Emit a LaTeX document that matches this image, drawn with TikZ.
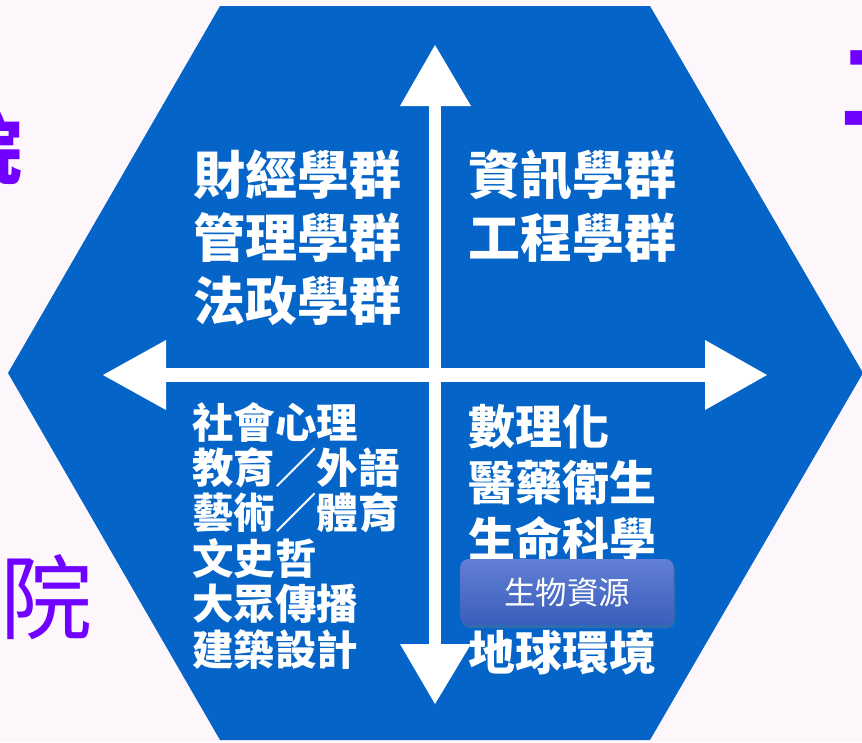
\documentclass[tikz,border=0pt]{standalone}
\usepackage{fontspec}
\newfontfamily\cjk{Noto Sans CJK TC}
\usetikzlibrary{shadows}
\definecolor{bgc}{RGB}{253,247,252}
\definecolor{hexblue}{RGB}{5,100,200}
\definecolor{purp}{RGB}{112,0,255}
\definecolor{boxtop}{RGB}{98,128,212}
\definecolor{boxbot}{RGB}{58,94,188}
\begin{document}
\begin{tikzpicture}[x=1pt,y=-1pt,
  line/.style={anchor=base west,inner sep=0pt,text=white},
  bigline/.style={line,font=\cjk\bfseries\fontsize{52}{63}\selectfont},
  midline/.style={line,font=\cjk\bfseries\fontsize{47}{56}\selectfont},
  smallline/.style={line,font=\cjk\bfseries\fontsize{41.5}{45}\selectfont},
  purpchar/.style={anchor=base west,inner sep=0pt,text=purp},
  arrowpart/.style={fill=white},
  biobox/.style={rounded corners=8pt,minimum width=213pt,minimum height=66pt,
    top color=boxtop,bottom color=boxbot,
    drop shadow={shadow xshift=1.5pt,shadow yshift=-3pt,opacity=0.35},
    text=white,font=\cjk\fontsize{31.5}{36}\selectfont,inner sep=0pt}]
\useasboundingbox (0,0) rectangle (862,742);
\fill[bgc] (0,0) rectangle (862,742);
\begin{scope}
\clip (0,0) rectangle (862,742);
\fill[hexblue] (220,6) -- (650,6) -- (863,373) -- (650,740) -- (220,740) -- (8,373) -- cycle;
\node[purpchar,font=\cjk\bfseries\fontsize{76}{76}\selectfont] (tl) at (-54,178) {院};
\node[purpchar,font=\cjk\fontsize{92}{92}\selectfont] (bl) at (0,632) {院};
\node[purpchar,font=\cjk\bfseries\fontsize{95}{95}\selectfont] (tr) at (841,122) {工};
\end{scope}
% axes
\coordinate (c) at (435,375);
\fill[arrowpart] (429,106) rectangle (441,644);
\fill[arrowpart] (166,368) rectangle (705,382);
\fill[arrowpart] (435,45) -- (471,106) -- (400,106) -- cycle;
\fill[arrowpart] (435,704) -- (471,644) -- (400,644) -- cycle;
\fill[arrowpart] (103,375) -- (166,340) -- (166,410) -- cycle;
\fill[arrowpart] (767,375) -- (705,340) -- (705,410) -- cycle;
% upper left
\foreach \t [count=\i] in {財經學群,管理學群,法政學群}
  \node[bigline] (ul\i) at (193,{194+63*(\i-1)}) {\t};
% upper right
\foreach \t [count=\i] in {資訊學群,工程學群}
  \node[bigline] (ur\i) at (468,{194+63*(\i-1)}) {\t};
% lower left
\foreach \t [count=\i] in {社會心理,教育／外語,藝術／體育,文史哲,大眾傳播,建築設計}
  \node[smallline] (ll\i) at (192,{438+45.4*(\i-1)}) {\t};
% lower right
\foreach \t [count=\i] in {數理化,醫藥衛生,生命科學}
  \node[midline] (lr\i) at (468,{444+56.5*(\i-1)}) {\t};
\node[midline] (lr5) at (468,670) {地球環境};
\node[biobox] (bio) at (567,592) {生物資源};
\end{tikzpicture}
\end{document}
